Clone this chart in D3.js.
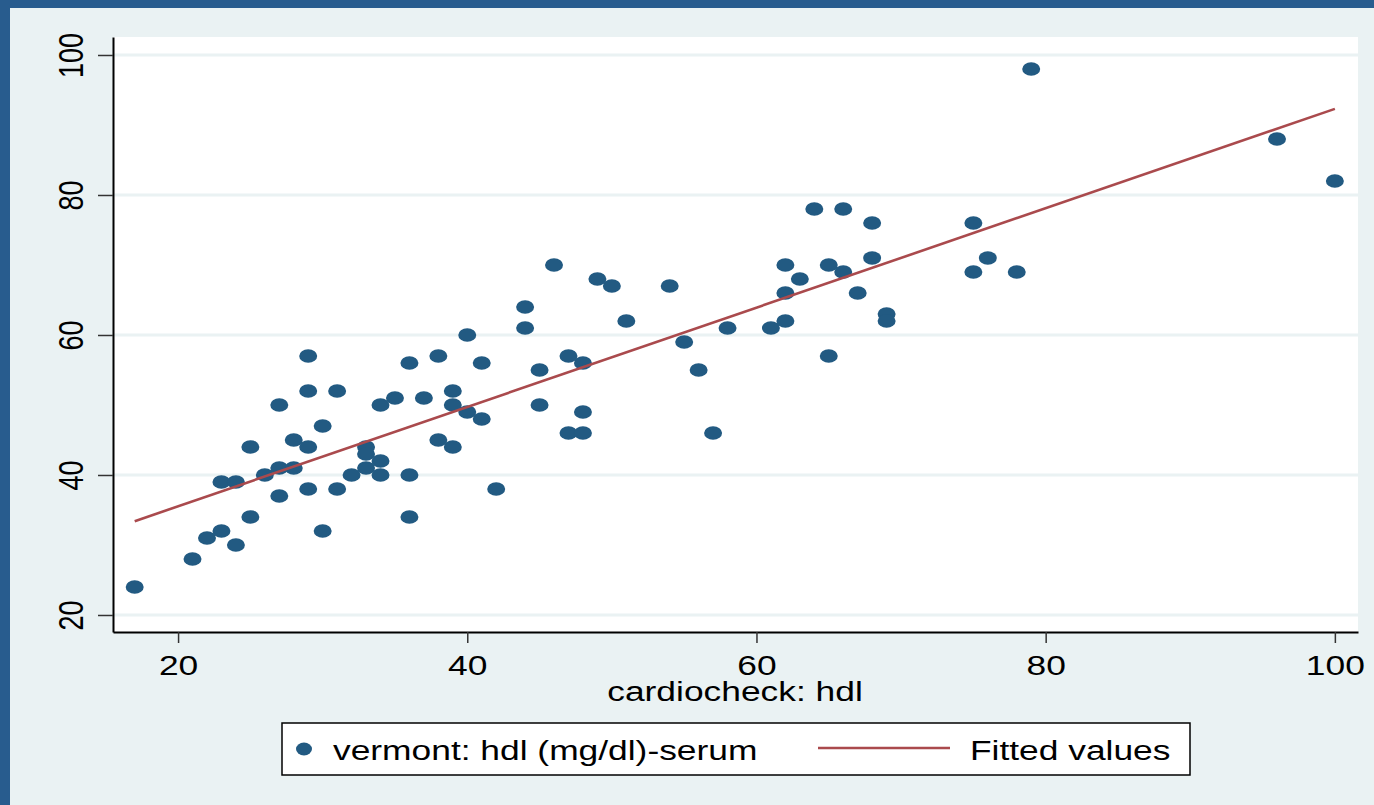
<!DOCTYPE html>
<html>
<head>
<meta charset="utf-8">
<script src="https://cdn.jsdelivr.net/npm/d3@7"></script>
<style>
  body { margin: 0; background: #eaf2f3; }
  svg { display: block; font-family: "Liberation Sans", Arial, sans-serif; }
</style>
</head>
<body>
<svg width="1374" height="805"></svg>
<script>
// cardiocheck hdl (x) tegen vermont hdl (y)
let cardioHdl = [17, 21, 22, 23, 24, 23, 24, 25, 25, 26, 27, 27, 27, 28, 28, 29, 29, 29, 29, 30,
  30, 31, 31, 32, 33, 33, 33, 34, 34, 34, 35, 36, 36, 36, 37, 38, 38, 39, 39, 39,
  40, 40, 41, 41, 42, 44, 44, 45, 45, 46, 47, 47, 48, 48, 48, 49, 50, 51, 54, 55,
  56, 57, 58, 61, 62, 62, 62, 63, 64, 65, 65, 66, 66, 67, 68, 68, 69, 69, 75, 75,
  76, 78, 79, 96, 100];
let vermontHdl = [24, 28, 31, 32, 30, 39, 39, 34, 44, 40, 41, 37, 50, 41, 45, 57, 52, 44, 38, 47,
  32, 52, 38, 40, 44, 43, 41, 50, 42, 40, 51, 56, 40, 34, 51, 57, 45, 52, 50, 44,
  60, 49, 56, 48, 38, 64, 61, 55, 50, 70, 57, 46, 56, 49, 46, 68, 67, 62, 67, 59,
  55, 46, 61, 61, 70, 66, 62, 68, 78, 70, 57, 78, 69, 66, 76, 71, 63, 62, 76, 69,
  71, 69, 98, 88, 82];

// fitted values (begin en eind van de lijn)
let fitX = [17, 100];
let fitY = [33.4, 92.3];

let xTicks = [20, 40, 60, 80, 100];
let yTicks = [20, 40, 60, 80, 100];

let navy = "#225a82", maroon = "#aa4a4d", bg = "#eaf2f3";
let fontSize = 27;
let stretch = "scale(1.31,1)"; // tekst is breder dan hoog in het origineel

let svg = d3.select("svg");

// achtergrond + blauwe rand
svg.append("rect").attr("width", 1374).attr("height", 805).attr("fill", bg);
svg.append("rect").attr("width", 1374).attr("height", 8).attr("fill", "#285c8e");
svg.append("rect").attr("width", 10).attr("height", 805).attr("fill", "#285c8e");

let x = d3.scaleLinear().domain([15.5, 101.6]).range([113, 1358]);
let y = d3.scaleLinear().domain([17.57, 102.57]).range([632, 37]);

// plotgebied
svg.append("rect")
    .attr("x", x.range()[0]).attr("y", y.range()[1])
    .attr("width", x.range()[1] - x.range()[0])
    .attr("height", y.range()[0] - y.range()[1])
    .attr("fill", "white");

// gridlijnen
svg.selectAll(".grid")
    .data(yTicks)
    .enter()
    .append("line")
    .attr("x1", x.range()[0]).attr("x2", x.range()[1])
    .attr("y1", d => y(d)).attr("y2", d => y(d))
    .attr("stroke", bg)
    .attr("stroke-width", 3);

// punten
svg.selectAll(".dot")
    .data(cardioHdl)
    .enter()
    .append("ellipse")
    .attr("cx", d => x(d))
    .attr("cy", (d, i) => y(vermontHdl[i]))
    .attr("rx", 9)
    .attr("ry", 6.8)
    .attr("fill", navy);

// fitted lijn
let line = d3.line().x(d => x(d[0])).y(d => y(d[1]));
svg.append("path")
    .datum(fitX.map((d, i) => [d, fitY[i]]))
    .attr("d", line)
    .attr("fill", "none")
    .attr("stroke", maroon)
    .attr("stroke-width", 2.6);

// assen
let xAxis = svg.append("g")
    .attr("transform", "translate(0," + y.range()[0] + ")")
    .call(d3.axisBottom(x).tickValues(xTicks).tickSize(11).tickSizeOuter(0));
xAxis.selectAll("text")
    .attr("y", 0).attr("dy", null)
    .attr("transform", "translate(0,43) " + stretch)
    .attr("text-anchor", "middle");

let yAxis = svg.append("g")
    .attr("transform", "translate(" + x.range()[0] + ",0)")
    .call(d3.axisLeft(y).tickValues(yTicks).tickSize(15).tickSizeOuter(0));
yAxis.selectAll("text")
    .attr("x", 0).attr("dy", null)
    .attr("transform", "translate(-30,0) " + stretch + " rotate(-90)")
    .attr("text-anchor", "middle");

svg.selectAll(".domain").attr("stroke", "#000").attr("stroke-width", 2);
svg.selectAll(".tick line").attr("stroke", "#333").attr("stroke-width", 1.5);
svg.selectAll(".tick text")
    .attr("font-size", fontSize)
    .attr("font-family", "'Liberation Sans', Arial, sans-serif")
    .attr("fill", "#000");

// as-titel
svg.append("text")
    .attr("transform", "translate(735,701) " + stretch)
    .attr("text-anchor", "middle")
    .attr("font-size", fontSize)
    .text("cardiocheck: hdl");

// legenda
let legend = svg.append("g");
legend.append("rect")
    .attr("x", 282).attr("y", 723)
    .attr("width", 908).attr("height", 52)
    .attr("fill", "white")
    .attr("stroke", "#000")
    .attr("stroke-width", 1.5);
legend.append("ellipse")
    .attr("cx", 304).attr("cy", 749)
    .attr("rx", 8).attr("ry", 6.5)
    .attr("fill", navy);
legend.append("text")
    .attr("transform", "translate(333,760) " + stretch)
    .attr("font-size", fontSize)
    .text("vermont: hdl (mg/dl)-serum");
legend.append("line")
    .attr("x1", 818).attr("x2", 950)
    .attr("y1", 748).attr("y2", 748)
    .attr("stroke", maroon)
    .attr("stroke-width", 2.6);
legend.append("text")
    .attr("transform", "translate(970,760) " + stretch)
    .attr("font-size", fontSize)
    .text("Fitted values");
</script>
</body>
</html>
